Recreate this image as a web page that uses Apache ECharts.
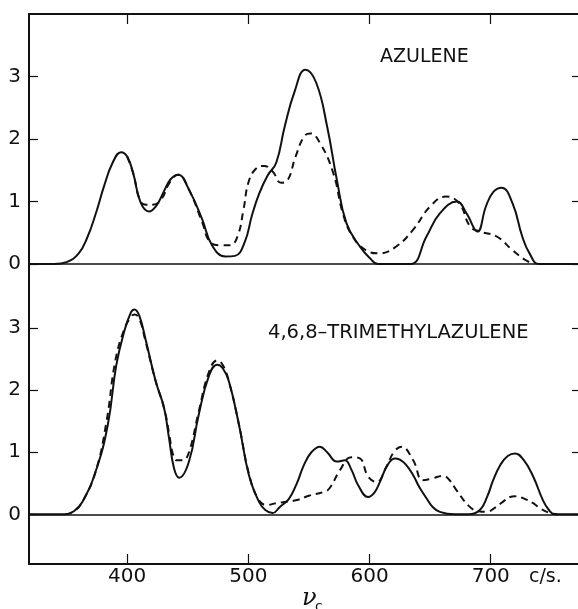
<!DOCTYPE html>
<html><head><meta charset="utf-8">
<script src="https://cdn.jsdelivr.net/npm/echarts@6/dist/echarts.min.js"></script>
<style>html,body{margin:0;padding:0;background:#fff}#c{width:578px;height:609px}</style>
</head><body><div id="c"></div>
<script>
// ---- data (x in c/s, y = intensity) ----
const xTicks = [400, 500, 600, 700];
const yTicks = [0, 1, 2, 3];
const panelTitles = ['AZULENE', '4,6,8\u2013TRIMETHYLAZULENE'];

const azuleneSolid = [[319,0],[340,0],[350,0.03],[360,0.17],[367,0.42],[374,0.8],[381,1.25],[388,1.62],[395,1.79],[400,1.72],[405,1.45],[411,0.99],[418,0.84],[424,0.93],[430,1.15],[436,1.36],[442,1.43],[451,1.19],[462,0.71],[470,0.3],[481,0.12],[489,0.13],[497,0.35],[503,0.78],[509,1.13],[516,1.42],[523,1.62],[530,2.2],[538,2.75],[547,3.11],[556,2.9],[565,2.2],[573,1.35],[581,0.65],[592,0.28],[600,0.1],[607,0],[620,0],[634,0],[647,0.44],[658,0.81],[672,1.0],[680,0.81],[689,0.52],[696,0.92],[702,1.15],[709,1.22],[718,0.97],[726,0.44],[732,0.17],[740,0],[772,0]];
const azuleneDashed = [[400,1.72],[405,1.45],[411,1.0],[416,0.95],[421,0.95],[428,1.03],[435,1.3],[442,1.43],[451,1.19],[462,0.66],[468,0.36],[476,0.3],[485,0.3],[491,0.44],[496,0.87],[500,1.3],[506,1.52],[513,1.57],[520,1.48],[527,1.3],[532,1.33],[539,1.72],[546,2.04],[551,2.09],[559,1.94],[570,1.46],[578,0.81],[586,0.44],[597,0.22],[608,0.17],[622,0.28],[636,0.55],[650,0.92],[663,1.08],[674,0.97],[683,0.6],[691,0.52],[705,0.44],[718,0.22],[729,0.06],[736,0]];

const trimSolid = [[319,0],[349,0],[356,0.05],[363,0.2],[374,0.69],[384,1.44],[391,2.4],[397.5,2.94],[403,3.25],[406,3.3],[410,3.2],[415.4,2.8],[423.6,2.14],[430.5,1.71],[434.6,1.22],[438.7,0.74],[443,0.59],[451,0.85],[459,1.6],[467.6,2.24],[474.4,2.41],[479,2.35],[484,2.14],[492.3,1.44],[500.5,0.63],[508.8,0.2],[514,0.07],[520,0.02],[526,0.12],[533.5,0.25],[540,0.5],[546,0.8],[552,1.0],[559,1.09],[565,1.0],[573,0.85],[579.6,0.87],[585,0.72],[590.6,0.47],[598.8,0.28],[604,0.35],[608.5,0.52],[615,0.8],[621,0.9],[625,0.88],[630,0.8],[636,0.63],[641,0.44],[647,0.26],[652,0.12],[658,0.04],[670,0],[682,0],[691,0.07],[697,0.28],[702,0.55],[708,0.8],[714,0.94],[720,0.98],[727,0.88],[735,0.61],[743,0.23],[748,0.07],[753,0],[772,0]];
const trimDashed = [[349,0],[356,0.05],[363,0.2],[374,0.69],[383,1.5],[390,2.45],[397,2.95],[403,3.18],[406,3.22],[410,3.15],[415,2.8],[423.6,2.14],[430.5,1.71],[434.6,1.3],[438,0.95],[441,0.87],[446,0.87],[451,1.0],[459,1.65],[467.6,2.3],[474.4,2.48],[479,2.4],[484,2.14],[492.3,1.44],[500.5,0.65],[508,0.25],[515,0.15],[523,0.18],[530,0.2],[540,0.23],[550,0.3],[562,0.36],[567,0.42],[575.5,0.71],[585,0.92],[592,0.9],[598.8,0.61],[605.7,0.52],[614,0.77],[620,1.0],[626.3,1.09],[636,0.87],[644,0.55],[652,0.58],[660.7,0.62],[666,0.55],[671.7,0.39],[682.7,0.12],[690,0.05],[696.5,0.04],[703,0.1],[710,0.2],[716,0.28],[720,0.29],[728,0.25],[735,0.18],[742,0.08],[749,0.02],[755,0]];

// ---- chart ----
const INK = '#111';
const FONT = 'DejaVu Sans';
const chart = echarts.init(document.getElementById('c'), null, {renderer: 'canvas'});

function xAx(gi, pos, showLabels) {
  return {
    gridIndex: gi, type: 'value', min: 319, max: 772, position: pos,
    axisLine: {show: true, onZero: false, lineStyle: {color: INK, width: 2}},
    axisTick: {show: true, inside: true, length: 10, customValues: xTicks, lineStyle: {color: INK, width: 1.2}},
    axisLabel: {show: showLabels, customValues: xTicks, fontFamily: FONT, fontSize: 20, color: INK, margin: 3},
    splitLine: {show: false}
  };
}
function yAx(gi, min, max, pos) {
  const left = pos === 'left';
  return {
    gridIndex: gi, type: 'value', min: min, max: max, position: pos,
    axisLine: {show: left, onZero: false, lineStyle: {color: INK, width: 2}},
    axisTick: {show: true, inside: true, length: left ? 9 : 6, customValues: yTicks, lineStyle: {color: INK, width: 1.2}},
    axisLabel: {show: left, customValues: yTicks, fontFamily: FONT, fontSize: 20, color: INK, margin: 8},
    splitLine: {show: false}
  };
}
const zeroLine = {
  silent: true, symbol: 'none', label: {show: false},
  lineStyle: {color: INK, width: 1.5, type: 'solid'},
  data: [{yAxis: 0}]
};
function curve(data, xi, yi, dashed, withZero) {
  const s = {
    type: 'line', data: data, xAxisIndex: xi, yAxisIndex: yi,
    showSymbol: false, smooth: 0.45, silent: true,
    lineStyle: {color: INK, width: 2, type: dashed ? [7, 5] : 'solid'},
    z: dashed ? 2 : 3
  };
  if (withZero) s.markLine = zeroLine;
  return s;
}

chart.setOption({
  animation: false,
  backgroundColor: '#fff',
  grid: [
    {left: 29, right: 0, top: 14, height: 275},
    {left: 29, right: 0, top: 289, height: 275}
  ],
  xAxis: [xAx(0, 'top', false), xAx(1, 'bottom', true)],
  yAxis: [
    yAx(0, -0.4, 4.0, 'left'), yAx(1, -0.8, 3.63, 'left'),
    yAx(0, -0.4, 4.0, 'right'), yAx(1, -0.8, 3.63, 'right')
  ],
  series: [
    curve(azuleneDashed, 0, 0, true, false),
    curve(azuleneSolid, 0, 0, false, true),
    curve(trimDashed, 1, 1, true, false),
    curve(trimSolid, 1, 1, false, true)
  ],
  graphic: [
    {type: 'text', left: 380, top: 48, style: {text: panelTitles[0], font: '19px "DejaVu Sans"', fill: INK}},
    {type: 'text', left: 268, top: 323, style: {text: panelTitles[1], font: '19.5px "DejaVu Sans"', fill: INK}},
    {type: 'text', left: 529, top: 568, style: {text: 'c/s.', font: '19px "DejaVu Sans"', fill: INK}},
    {type: 'text', left: 302, top: 587, style: {text: '\u03bd', font: 'italic 24px "DejaVu Serif"', fill: INK}},
    {type: 'text', left: 315, top: 600, style: {text: 'c', font: '14px "DejaVu Sans"', fill: INK}}
  ]
});
</script>
</body></html>
